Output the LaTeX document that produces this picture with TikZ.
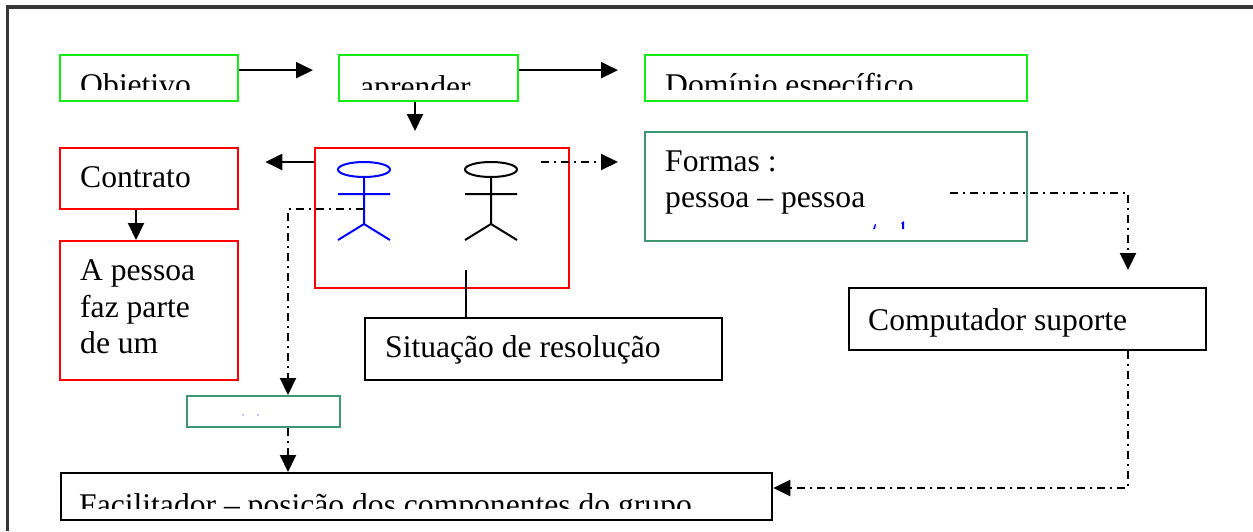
\documentclass[tikz,border=0pt]{standalone}
\usepackage{fontspec}
\setmainfont{Liberation Serif}
\usetikzlibrary{arrows.meta,calc}
\definecolor{boxgreen}{RGB}{20,235,20}
\definecolor{boxred}{RGB}{255,0,0}
\definecolor{boxteal}{RGB}{64,150,115}
\definecolor{framegray}{RGB}{55,55,55}
\definecolor{figblue}{RGB}{0,0,255}
\begin{document}
\begin{tikzpicture}[x=1pt,y=-1pt,
  box/.style={draw, line width=2.3pt, inner sep=0pt, anchor=north west},
  gbox/.style={box, draw=boxgreen},
  rbox/.style={box, draw=boxred},
  tbox/.style={box, draw=boxteal},
  kbox/.style={box, draw=black},
  txt/.style={anchor=base west, inner sep=0pt, font=\fontsize{31.6}{36.7}\selectfont},
  tip/.style={-{Triangle[length=17pt,width=16pt]}},
  arr/.style={line width=2pt, tip},
  dd/.style={line width=2pt, dash pattern=on 8pt off 5pt on 2pt off 5pt, tip},
  fig/.style={line width=2pt}]
\useasboundingbox (0,0) rectangle (1253,531);
\fill[white] (0,0) rectangle (1253,531);
% frame
\draw[line width=3.5pt, framegray] (7.5,531) -- (7.5,7) -- (1253,7);

% boxes
\node[gbox, minimum width=178pt, minimum height=46pt] (obj) at (59,54) {};
\node[gbox, minimum width=179pt, minimum height=46pt] (apr) at (338,54) {};
\node[gbox, minimum width=382pt, minimum height=46pt] (dom) at (644,54) {};
\node[rbox, minimum width=254pt, minimum height=140pt] (red) at (314,147) {};
\node[rbox, minimum width=178pt, minimum height=61pt] (con) at (59,147) {};
\node[rbox, minimum width=178pt, minimum height=139pt] (pes) at (59,240) {};
\node[tbox, minimum width=382pt, minimum height=109pt] (for) at (644,131) {};
\node[kbox, minimum width=357pt, minimum height=62pt] (comp) at (848,287) {};
\node[kbox, minimum width=357pt, minimum height=62pt] (sit) at (364,317) {};
\node[tbox, minimum width=153pt, minimum height=31pt] (small) at (186,395) {};
\node[kbox, minimum width=711pt, minimum height=47pt] (fac) at (60,472) {};

% texts
\begin{scope}
\clip (0,0) rectangle (1253,89);
\node[txt] (tobj) at (80,95) {Objetivo};
\node[txt] (tapr) at (360,97) {aprender};
\node[txt] (tdom) at (665,95) {Domínio específico};
\end{scope}
\node[txt] (tcon) at (80,187) {Contrato};
\node[txt] (tpes1) at (80,280) {A pessoa};
\node[txt] (tpes2) at (80,317) {faz parte};
\node[txt] (tpes3) at (80,353) {de um};
\node[txt] (tfor1) at (665,171) {Formas :};
\node[txt] (tfor2) at (665,207) {pessoa – pessoa};
\node[txt] (tsit) at (385,357) {Situação de resolução};
\node[txt] (tcomp) at (868,330) {Computador suporte};
\begin{scope}
\clip (0,0) rectangle (1253,508);
\node[txt] (tfac) at (79,515) {Facilitador – posição dos componentes do grupo};
\end{scope}

% small blue fragments of clipped text
\fill[figblue] (873,229) -- (875,224) -- (876,224) -- (875,229) -- cycle;
\fill[figblue] (901,223) -- (904,221) -- (904,229) -- (902,229) -- (902,224) -- cycle;
\fill[figblue] (243,415) circle [radius=0.7];
\fill[figblue] (258,415) circle [radius=0.7];

% stick figures
\draw[fig, figblue] (364,169.5) ellipse [x radius=26, y radius=7.5];
\draw[fig, figblue] (364,177) -- (364,224) (338,194) -- (390,194) (338,240) -- (364,224) -- (390,240);
\draw[fig, black] (491,169.5) ellipse [x radius=26, y radius=7.5];
\draw[fig, black] (491,177) -- (491,224) (465,194) -- (517,194) (465,240) -- (491,224) -- (517,240);

% coordinates
\coordinate (a1) at (415,0);
\coordinate (l1) at (0,162);
\coordinate (cx) at (136,0);
\coordinate (d1) at (541,162);
\coordinate (d2) at (950,193);
\coordinate (d3) at (1128,193);
\coordinate (d4) at (1128,488);
\coordinate (d5) at (364,209);
\coordinate (d6) at (288,209);
\coordinate (s1) at (466,270);

% connectors
\draw[arr] ([yshift=8pt]obj.east) -- ([yshift=8pt,xshift=-25pt]apr.west);
\draw[arr] ([yshift=8pt]apr.east) -- ([yshift=8pt,xshift=-26pt]dom.west);
\draw[arr, shorten >=16pt] (apr.south -| a1) -- (a1 |- red.north);
\draw[arr, shorten >=26pt] (red.west |- l1) -- (con.east |- l1);
\draw[arr] (con.south -| cx) -- (pes.north -| cx);
\draw[dd, shorten >=26pt] (d1) -- (for.west |- d1);
\draw[dd, shorten >=17pt] (d2) -- (d3) -- (d3 |- comp.north);
\draw[dd] (comp.south -| d4) -- (d4) -- (fac.east |- d4);
\draw[dd] (d5) -- (d6) -- (d6 |- small.north);
\draw[dd] (small.south -| d6) -- (fac.north -| d6);
\draw[fig] (s1) -- (sit.north -| s1);
\end{tikzpicture}
\end{document}
